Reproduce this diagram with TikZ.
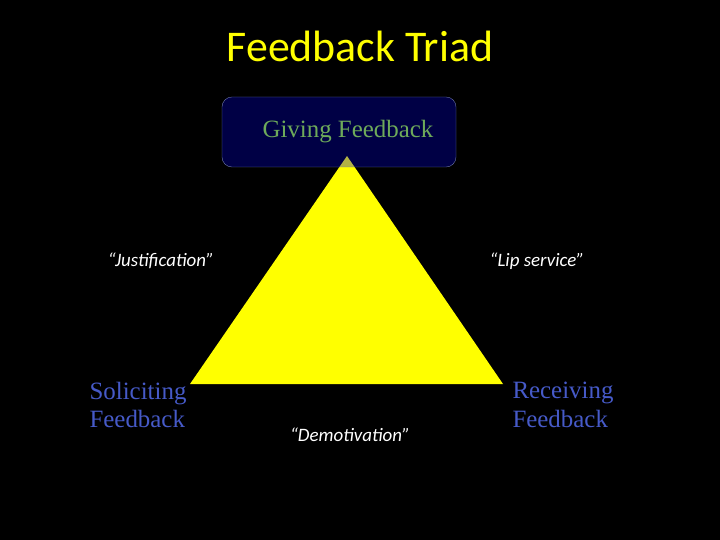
\documentclass[tikz,border=0pt]{standalone}
\usepackage{fontspec}
\usepackage{tikz}
\usetikzlibrary{positioning}
\setmainfont{Liberation Serif}
\newfontfamily\calib{Carlito}
\definecolor{boxblue}{RGB}{0,0,230}
\definecolor{boxline}{RGB}{110,120,170}
\definecolor{givegreen}{RGB}{110,170,90}
\definecolor{roleblue}{RGB}{70,90,200}
\definecolor{triyellow}{RGB}{255,255,0}
\tikzset{
    quote/.style={text=white, font=\calib\itshape\fontsize{19}{22}\selectfont},
    role/.style={text=roleblue, align=left, font=\fontsize{25}{29}\selectfont}
}

\begin{document}
\begin{tikzpicture}[x=1bp, y=-1bp]
        \fill[black] (0,0) rectangle (720,540);
        \node[text=triyellow, font=\calib\fontsize{44}{46}\selectfont] (title) at (360,46) {Feedback Triad};
        % triangle
        \coordinate (top) at (347,156);
        \coordinate (left) at (190,384);
        \coordinate (right) at (503,384);
        \fill[triyellow] (top) -- (left) -- (right) -- cycle;
        \filldraw[fill=boxblue, fill opacity=0.3, draw=boxline, rounded corners=10] (222,97) rectangle (456,167);
        \node[text=givegreen, font=\fontsize{25}{28}\selectfont] (giving) at (348,132) {Giving Feedback};
        \node[role] (soliciting) at (138,405) {Soliciting\\Feedback};
        \node[role] (receiving) at (563,405) {Receiving\\Feedback};
        \node[quote] (justify) at (161,261) {“Justification”};
        \node[quote] (lip) at (537,261) {“Lip service”};
        \node[quote] (demot) at (350,435) {“Demotivation”};
        \end{tikzpicture}
\end{document}
